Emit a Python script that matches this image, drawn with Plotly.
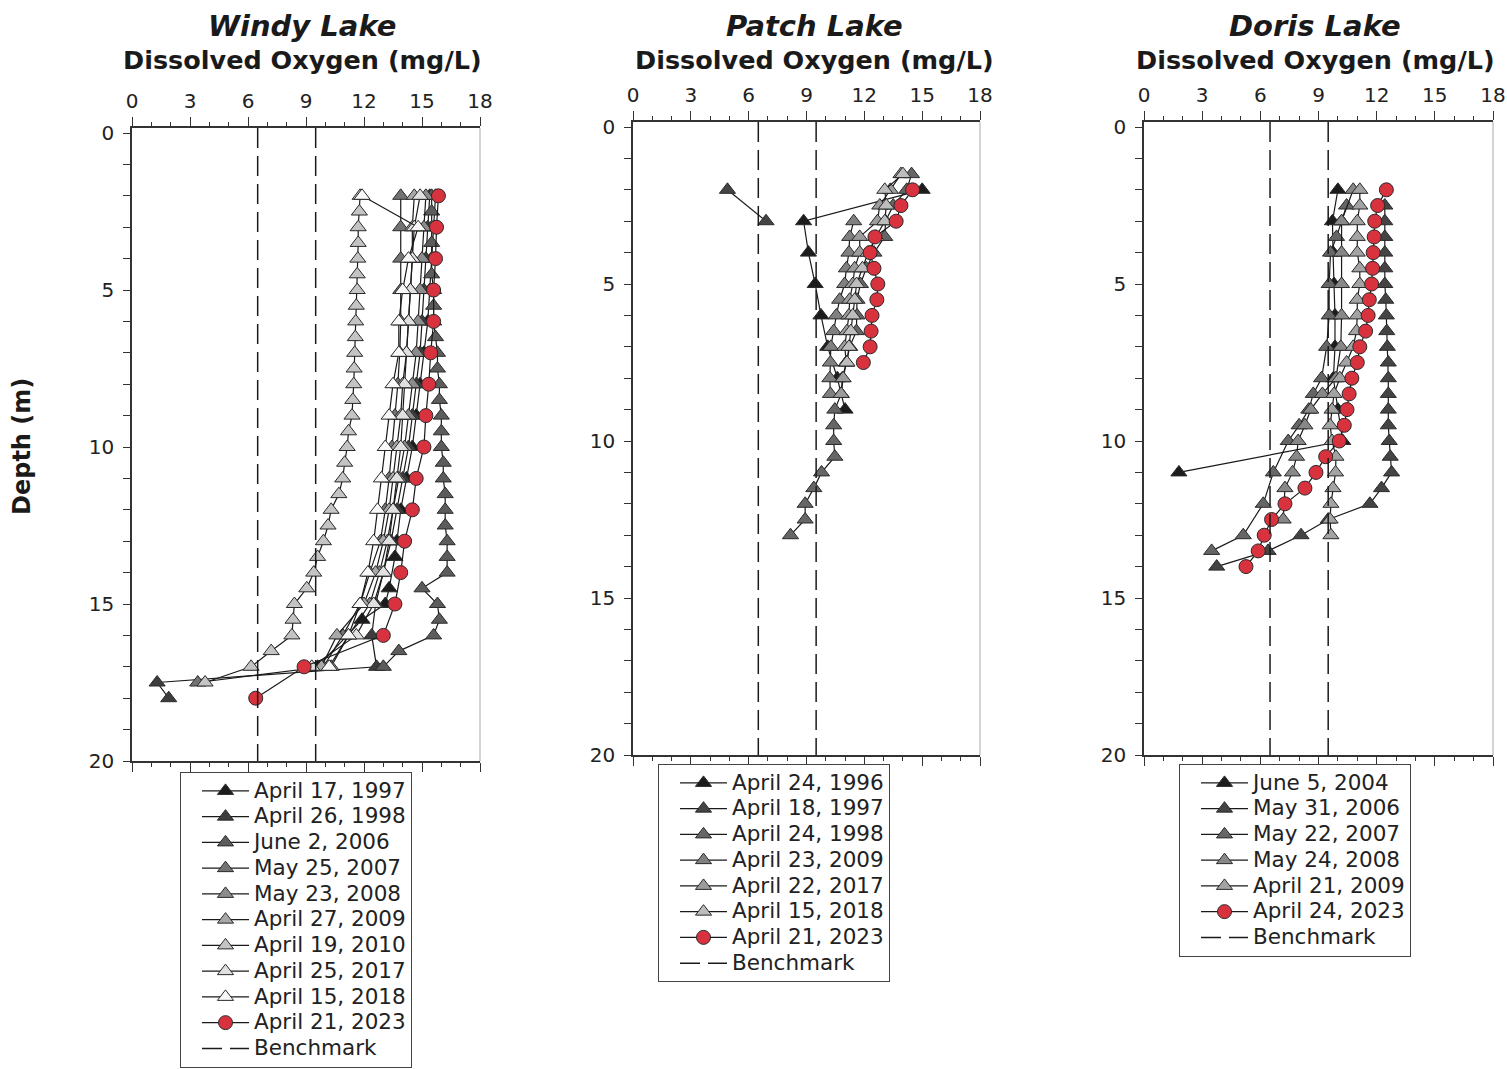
import plotly.graph_objects as go

W, H = 1507, 1069

# ---------------- data ----------------
benchmarks = [6.5, 9.5]
x_ticks = [0, 3, 6, 9, 12, 15, 18]
depth_ticks = [0, 5, 10, 15, 20]
x_range = [0, 18]
depth_range = [20, -0.16]

# Windy Lake
windy_names = ["April 17, 1997", "April 26, 1998", "June 2, 2006", "May 25, 2007",
               "May 23, 2008", "April 27, 2009", "April 19, 2010", "April 25, 2017",
               "April 15, 2018", "April 21, 2023"]
windy_1997_depth = [2, 3, 4, 5, 6, 7, 8, 9, 10, 11, 12, 13, 13.5, 14.5, 15, 15.5, 17]
windy_1997_do = [15.7, 15.6, 15.5, 15.4, 15.3, 15.1, 14.9, 14.7, 14.5, 14.2, 13.9, 13.7, 13.6, 13.3, 13.1, 11.9, 9.6]
windy_1998_depth = [2, 3, 4, 5, 6, 7, 8, 9, 10, 11, 12, 13, 14, 15, 16, 17, 17.5, 18]
windy_1998_do = [15.4, 15.3, 15.2, 15.1, 15.0, 14.9, 14.7, 14.5, 14.3, 14.0, 13.7, 13.4, 13.0, 12.6, 12.4, 12.65, 1.3, 1.9]
windy_2006_depth = [2, 2.5, 3, 3.5, 4, 4.5, 5, 5.5, 6, 6.5, 7, 7.5, 8, 8.5, 9, 9.5, 10, 10.5, 11, 11.5,
                    12, 12.5, 13, 13.5, 14, 14.5, 15, 15.5, 16, 16.5, 17]
windy_2006_do = [15.5, 15.5, 15.5, 15.5, 15.5, 15.5, 15.6, 15.6, 15.6, 15.7, 15.8, 15.8, 15.9, 15.9, 16.0, 16.0,
                 16.0, 16.1, 16.1, 16.2, 16.2, 16.2, 16.3, 16.3, 16.3, 15.0, 15.8, 15.9, 15.6, 13.8, 13.0]
windy_2007_depth = [2, 3, 4, 5, 6, 7, 8, 9, 10, 11, 12, 13, 14, 15, 16, 17, 17.5]
windy_2007_do = [13.9, 13.9, 13.9, 13.9, 13.9, 13.85, 13.75, 13.6, 13.45, 13.3, 13.1, 12.85, 12.3, 11.8, 10.9, 9.9, 3.4]
windy_2008_depth = [2, 3, 4, 5, 6, 7, 8, 9, 10, 11, 12, 13, 14, 15, 16, 17]
windy_2008_do = [15.2, 15.1, 15.0, 14.9, 14.8, 14.7, 14.5, 14.3, 14.1, 13.8, 13.5, 13.2, 12.8, 12.3, 11.2, 10.3]
windy_2009_depth = [2, 3, 4, 5, 6, 7, 8, 9, 10, 11, 12, 13, 14, 15, 16, 17]
windy_2009_do = [14.6, 14.5, 14.5, 14.4, 14.3, 14.2, 14.0, 13.9, 13.7, 13.5, 13.3, 13.0, 12.6, 12.0, 10.6, 9.8]
windy_2010_depth = [2, 2.5, 3, 3.5, 4, 4.5, 5, 5.5, 6, 6.5, 7, 7.5, 8, 8.5, 9, 9.5, 10, 10.5, 11, 11.5,
                    12, 12.5, 13, 13.5, 14, 14.5, 15, 15.5, 16, 16.5, 17, 17.5]
windy_2010_do = [11.8, 11.76, 11.7, 11.7, 11.68, 11.65, 11.65, 11.6, 11.57, 11.55, 11.52, 11.49, 11.47, 11.42,
                 11.38, 11.2, 11.13, 11.0, 10.9, 10.7, 10.3, 10.14, 9.9, 9.6, 9.4, 9.04, 8.4, 8.33, 8.27, 7.2,
                 6.16, 3.78]
windy_2017_depth = [2, 3, 4, 5, 6, 7, 8, 9, 10, 11, 12, 13, 14, 15, 16, 17]
windy_2017_do = [14.9, 14.6, 14.5, 14.4, 14.3, 14.2, 14.1, 14.0, 13.9, 13.7, 13.5, 13.3, 13.0, 12.5, 11.6, 9.3]
windy_2018_depth = [2, 3, 4, 5, 6, 7, 8, 9, 10, 11, 12, 13, 14, 15, 16, 17]
windy_2018_do = [11.9, 14.8, 14.3, 14.0, 13.8, 13.8, 13.5, 13.3, 13.1, 12.9, 12.7, 12.5, 12.2, 11.8, 11.2, 10.2]
windy_2023_depth = [2, 3, 4, 5, 6, 7, 8, 9, 10, 11, 12, 13, 14, 15, 16, 17, 18]
windy_2023_do = [15.85, 15.75, 15.7, 15.6, 15.6, 15.45, 15.35, 15.2, 15.1, 14.7, 14.5, 14.1, 13.9, 13.6, 13.0, 8.9, 6.4]

# Patch Lake
patch_names = ["April 24, 1996", "April 18, 1997", "April 24, 1998", "April 23, 2009",
               "April 22, 2017", "April 15, 2018", "April 21, 2023"]
patch_1996_depth = [2, 3, 4, 5, 6, 7, 8, 9]
patch_1996_do = [15.0, 8.85, 9.1, 9.45, 9.75, 10.1, 10.6, 11.0]
patch_1997_depth = [2, 3]
patch_1997_do = [4.9, 6.9]
patch_1998_depth = [1.5, 2, 2.5, 3, 3.5, 4, 4.5, 5, 5.5, 6, 6.5, 7, 7.5, 8, 8.5, 9, 9.5, 10, 10.5, 11,
                    11.5, 12, 12.5, 13]
patch_1998_do = [14.45, 14.2, 13.5, 13.1, 13.06, 12.5, 12.1, 11.8, 11.62, 11.62, 11.59, 11.24, 11.07, 10.86,
                 10.8, 10.47, 10.41, 10.41, 10.47, 9.78, 9.38, 8.93, 8.93, 8.17]
patch_2009_depth = [3, 3.5, 4, 4.5, 5, 5.5, 6, 6.5, 7, 7.5, 8, 8.5]
patch_2009_do = [11.45, 11.24, 11.2, 11.07, 10.98, 10.72, 10.55, 10.41, 10.26, 10.24, 10.21, 10.24]
patch_2017_depth = [1.5, 2, 2.5, 3, 3.5, 4, 4.5, 5, 5.5, 6, 6.5, 7, 7.5, 8, 8.5]
patch_2017_do = [13.9, 13.35, 12.8, 12.68, 11.76, 11.76, 11.5, 11.4, 11.24, 11.2, 11.1, 10.98, 11.07, 10.9, 10.8]
patch_2018_depth = [1.5, 2, 2.5, 3, 3.5, 4, 4.5, 5, 5.5, 6, 6.5, 7, 7.5]
patch_2018_do = [14.0, 13.06, 13.14, 13.06, 12.6, 12.2, 11.9, 11.6, 11.5, 11.4, 11.3, 11.2, 11.1]
patch_2023_depth = [2, 2.5, 3, 3.5, 4, 4.5, 5, 5.5, 6, 6.5, 7, 7.5]
patch_2023_do = [14.5, 13.9, 13.65, 12.55, 12.3, 12.5, 12.7, 12.65, 12.4, 12.35, 12.3, 11.95]

# Doris Lake
doris_names = ["June 5, 2004", "May 31, 2006", "May 22, 2007", "May 24, 2008",
               "April 21, 2009", "April 24, 2023"]
doris_2004_depth = [2, 3, 4, 5, 6, 7, 8, 9, 10, 11]
doris_2004_do = [10.0, 9.72, 9.75, 9.8, 9.85, 9.85, 9.77, 10.0, 10.25, 1.8]
doris_2006_depth = [2.5, 3, 3.5, 4, 4.5, 5, 5.5, 6, 6.5, 7, 7.5, 8, 8.5, 9, 9.5, 10, 10.5, 11, 11.5, 12,
                    12.5, 13, 13.5, 14]
doris_2006_do = [12.42, 12.42, 12.42, 12.42, 12.42, 12.42, 12.47, 12.5, 12.52, 12.55, 12.6, 12.6, 12.6, 12.6,
                 12.6, 12.65, 12.7, 12.77, 12.25, 11.65, 9.5, 8.1, 6.4, 3.75]
doris_2007_depth = [2.5, 3, 3.5, 4, 5, 6, 7, 8, 8.5, 9, 9.5, 10, 11, 12, 13, 13.5]
doris_2007_do = [10.45, 10.19, 9.93, 9.62, 9.55, 9.55, 9.42, 9.16, 8.73, 8.5, 8.0, 7.44, 6.67, 6.15, 5.12, 3.49]
doris_2008_depth = [2, 3, 4, 5, 6, 7, 8, 8.5, 9, 9.5, 10, 10.5, 11, 11.5, 12.5]
doris_2008_do = [10.79, 10.19, 10.19, 10.19, 10.19, 10.15, 9.9, 9.2, 8.6, 8.3, 7.95, 7.87, 7.66, 7.27, 7.18]
doris_2009_depth = [2, 2.5, 3, 3.5, 4, 4.5, 5, 5.5, 6, 6.5, 7, 7.5, 8, 8.5, 9, 9.5, 10, 10.5, 11, 11.5,
                    12, 12.5, 13]
doris_2009_do = [11.13, 11.13, 11.0, 11.0, 11.0, 11.13, 11.13, 11.0, 11.0, 10.96, 10.79, 10.45, 10.1, 9.8, 9.7,
                 9.6, 9.7, 9.9, 9.88, 9.75, 9.64, 9.6, 9.64]
doris_2023_depth = [2, 2.5, 3, 3.5, 4, 4.5, 5, 5.5, 6, 6.5, 7, 7.5, 8, 8.5, 9, 9.5, 10, 10.5, 11, 11.5,
                    12, 12.5, 13, 13.5, 14]
doris_2023_do = [12.5, 12.05, 11.9, 11.87, 11.82, 11.79, 11.74, 11.62, 11.56, 11.43, 11.13, 11.0, 10.72, 10.58,
                 10.47, 10.33, 10.07, 9.37, 8.87, 8.3, 7.27, 6.58, 6.2, 5.89, 5.26]

# ---------------- styles ----------------
FONT = "DejaVu Sans"
RED = "#d8323f"
windy_series = [(windy_1997_do, windy_1997_depth), (windy_1998_do, windy_1998_depth),
                (windy_2006_do, windy_2006_depth), (windy_2007_do, windy_2007_depth),
                (windy_2008_do, windy_2008_depth), (windy_2009_do, windy_2009_depth),
                (windy_2010_do, windy_2010_depth), (windy_2017_do, windy_2017_depth),
                (windy_2018_do, windy_2018_depth), (windy_2023_do, windy_2023_depth)]
windy_colors = ["#1c1c1c", "#3d3d3d", "#5c5c5c", "#737373", "#8c8c8c", "#a8a8a8",
                "#c4c4c4", "#e0e0e0", "#f8f8f8", RED]
patch_series = [(patch_1996_do, patch_1996_depth), (patch_1997_do, patch_1997_depth),
                (patch_1998_do, patch_1998_depth), (patch_2009_do, patch_2009_depth),
                (patch_2017_do, patch_2017_depth), (patch_2018_do, patch_2018_depth),
                (patch_2023_do, patch_2023_depth)]
patch_colors = ["#1c1c1c", "#444444", "#666666", "#808080", "#9c9c9c", "#bdbdbd", RED]
doris_series = [(doris_2004_do, doris_2004_depth), (doris_2006_do, doris_2006_depth),
                (doris_2007_do, doris_2007_depth), (doris_2008_do, doris_2008_depth),
                (doris_2009_do, doris_2009_depth), (doris_2023_do, doris_2023_depth)]
doris_colors = ["#1c1c1c", "#444444", "#666666", "#888888", "#a3a3a3", RED]

LEG_TEXT = '<span style="font-size:21.5px">{}</span>'


def px(x):
    return x / W


def py(y):
    return 1 - y / H


panels = [
    dict(title="Windy Lake", names=windy_names, series=windy_series, colors=windy_colors,
         xd=[px(132), px(480)], yd=[py(761), py(128)], cx=px(302), ty=py(26), sy=py(60),
         leg=(px(180), py(772))),
    dict(title="Patch Lake", names=patch_names, series=patch_series, colors=patch_colors,
         xd=[px(633), px(980)], yd=[py(755), py(122)], cx=px(815), ty=py(26), sy=py(60),
         leg=(px(658), py(764))),
    dict(title="Doris Lake", names=doris_names, series=doris_series, colors=doris_colors,
         xd=[px(1144), px(1493)], yd=[py(755), py(122)], cx=px(1315), ty=py(26), sy=py(60),
         leg=(px(1179), py(764))),
]

fig = go.Figure()
annotations = []
shapes = []
layout = {}

for i, p in enumerate(panels):
    k = "" if i == 0 else str(i + 1)
    xa, ya = "x" + k, "y" + k
    leg = "legend" + k
    # benchmark lines spanning the depth axis
    bx, by = [], []
    for b in benchmarks:
        bx += [b, b, None]
        by += [depth_range[1], depth_range[0], None]
    for name, (vals, deps), col in zip(p["names"], p["series"], p["colors"]):
        is_red = col == RED
        fig.add_trace(go.Scatter(
            x=vals, y=deps, xaxis=xa, yaxis=ya, name=LEG_TEXT.format(name), legend=leg,
            mode="lines+markers",
            line=dict(color="#1a1a1a", width=1.2),
            marker=dict(symbol="circle" if is_red else "triangle-up",
                        size=14, color=col,
                        line=dict(color="#2a2a2a", width=1)),
        ))
    fig.add_trace(go.Scatter(
        x=bx, y=by, xaxis=xa, yaxis=ya, name=LEG_TEXT.format("Benchmark"), legend=leg,
        mode="lines", line=dict(color="#1a1a1a", width=1.5, dash="20px,8px"),
        hoverinfo="skip"))

    layout["xaxis" + k] = dict(
        domain=p["xd"], anchor=ya, side="top", range=x_range, tickvals=x_ticks,
        ticks="outside", ticklen=9, tickwidth=1.2, tickcolor="#333",
        showline=True, linecolor="#333", linewidth=1.5, mirror="ticks",
        showgrid=False, zeroline=False, ticklabelstandoff=1,
        tickfont=dict(size=20, color="#222", family=FONT),
        minor=dict(dtick=1, tick0=0, ticks="outside", ticklen=4, tickwidth=1.2,
                   tickcolor="#333", showgrid=False))
    layout["yaxis" + k] = dict(
        domain=p["yd"], anchor=xa, range=depth_range, tickvals=depth_ticks,
        ticks="outside", ticklen=7, tickwidth=1.2, tickcolor="#333",
        showline=True, linecolor="#333", linewidth=1.5, mirror=False,
        showgrid=False, zeroline=False, ticklabelstandoff=5,
        tickfont=dict(size=20, color="#222", family=FONT),
        minor=dict(dtick=1, tick0=0, ticks="outside", ticklen=7, tickwidth=1.2,
                   tickcolor="#333", showgrid=False))
    layout[leg] = dict(
        x=p["leg"][0], y=p["leg"][1], xanchor="left", yanchor="top",
        bordercolor="#444", borderwidth=1, bgcolor="white", itemwidth=47, indentation=16,
        font=dict(size=17.5, color="#222", family=FONT), traceorder="normal")
    shapes.append(dict(type="line", xref=xa + " domain", yref=ya + " domain",
                       x0=1, x1=1, y0=0, y1=1, line=dict(color="#aaaaaa", width=1)))
    annotations.append(dict(text="<b><i>" + p["title"] + "</i></b>", x=p["cx"], y=p["ty"],
                            xref="paper", yref="paper", showarrow=False,
                            xanchor="center", yanchor="middle",
                            font=dict(size=29, color="#1a1a1a", family=FONT)))
    annotations.append(dict(text="<b>Dissolved Oxygen (mg/L)</b>", x=p["cx"], y=p["sy"],
                            xref="paper", yref="paper", showarrow=False,
                            xanchor="center", yanchor="middle",
                            font=dict(size=25.5, color="#1a1a1a", family=FONT)))

annotations.append(dict(text="<b>Depth (m)</b>", x=px(22), y=py(447), xref="paper", yref="paper",
                        showarrow=False, textangle=-90, xanchor="center", yanchor="middle",
                        font=dict(size=24, color="#1a1a1a", family=FONT)))

fig.update_layout(
    width=W, height=H, margin=dict(l=0, r=0, t=0, b=0, autoexpand=False),
    paper_bgcolor="white", plot_bgcolor="white",
    font=dict(family=FONT, color="#222"),
    annotations=annotations, shapes=shapes, showlegend=True, **layout)

fig.write_html("out.html")
